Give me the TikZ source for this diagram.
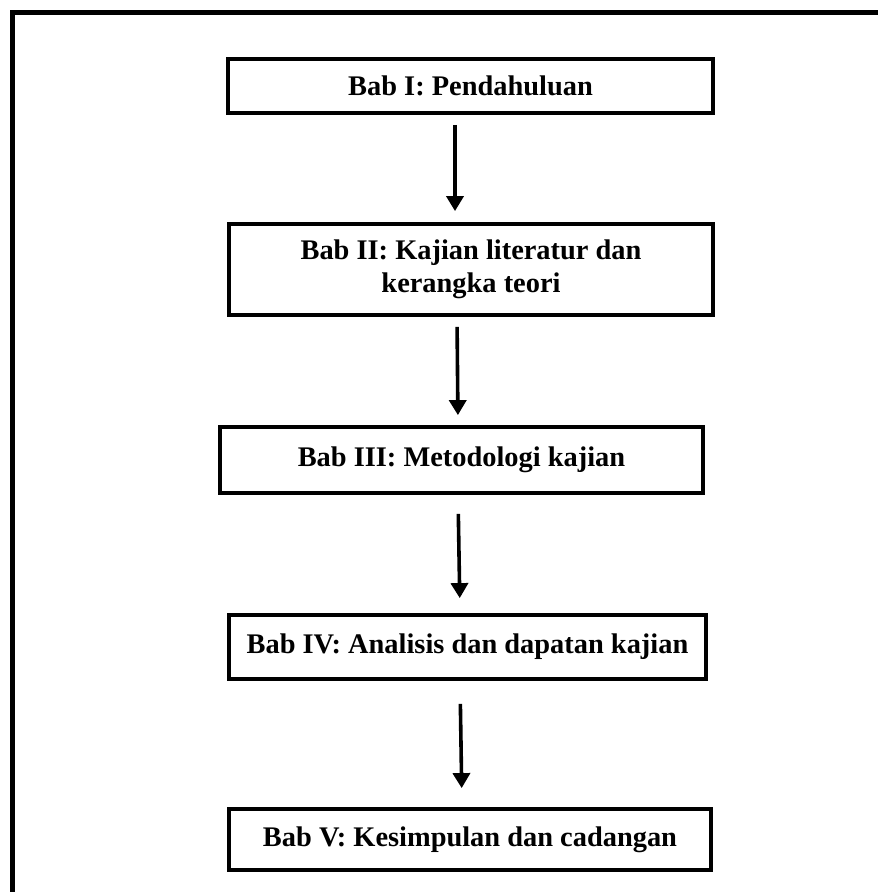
\documentclass[tikz,border=0pt]{standalone}
\usepackage{fontspec}
\setmainfont{Liberation Serif}
\usetikzlibrary{arrows.meta}
\begin{document}
\begin{tikzpicture}[x=1pt,y=-1pt,
  chapbox/.style={draw=black,line width=3.8pt,fill=white,inner sep=0pt,align=center,
    font=\bfseries\fontsize{28.4}{33}\selectfont},
  arr/.style={line width=3.6pt,-{Triangle[width=17pt,length=15pt]}}]
\useasboundingbox (0,0) rectangle (878,892);
\fill[white] (0,0) rectangle (878,892);
% outer frame (top and left edges)
\draw[line width=5pt,line join=miter] (878,12.5) -- (12.5,12.5) -- (12.5,892);
% chapter boxes
\node[chapbox,minimum width=485pt,minimum height=54pt] (b1) at (470.5,86) {Bab I: Pendahuluan};
\node[chapbox,minimum width=484pt,minimum height=91pt] (b2) at (471,269.5) {Bab II: Kajian literatur dan\\kerangka teori};
\node[chapbox,minimum width=483pt,minimum height=66pt] (b3) at (461.5,460) {Bab III: Metodologi kajian};
\node[chapbox,minimum width=477pt,minimum height=64pt] (b4) at (467.5,647) {Bab IV: Analisis dan dapatan kajian};
\node[chapbox,minimum width=482pt,minimum height=61pt] (b5) at (470,839.5) {Bab V: Kesimpulan dan cadangan};
% arrows
\draw[arr,shorten <=10pt,shorten >=11pt] ([xshift=-15.5pt]b1.south) -- ([xshift=-16pt]b2.north);
\draw[arr,shorten <=10pt,shorten >=10pt] ([xshift=-14pt]b2.south) -- ([xshift=-3.5pt]b3.north);
\draw[arr,shorten <=19pt,shorten >=15pt] ([xshift=-3.5pt]b3.south) -- ([xshift=-7.5pt]b4.north);
\draw[arr,shorten <=23pt,shorten >=19pt] ([xshift=-7.5pt]b4.south) -- ([xshift=-8pt]b5.north);
\end{tikzpicture}
\end{document}
